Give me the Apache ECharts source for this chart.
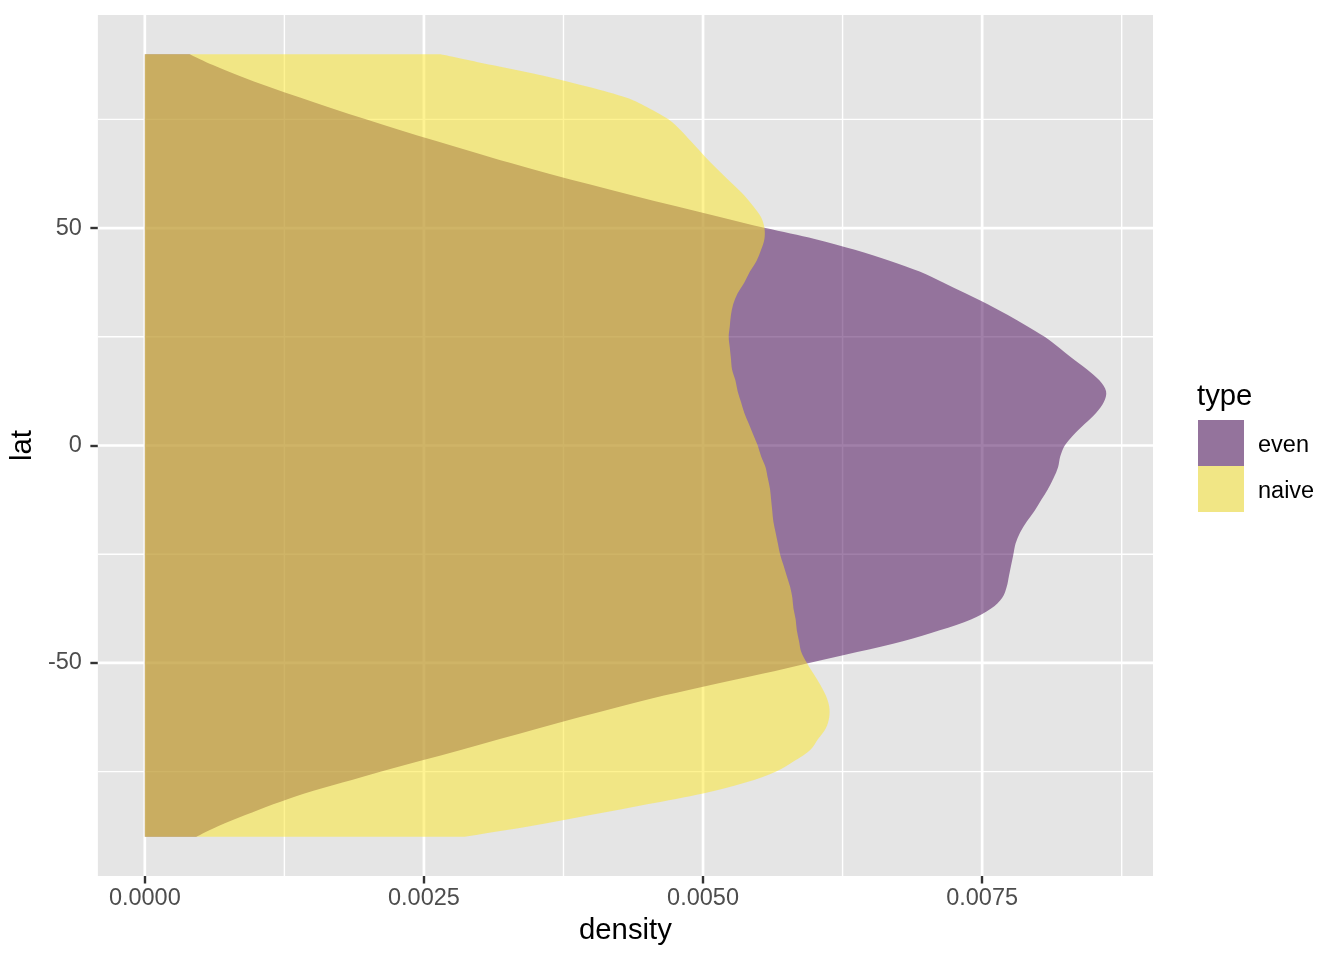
<!DOCTYPE html>
<html><head><meta charset="utf-8">
<script src="https://cdn.jsdelivr.net/npm/echarts@6/dist/echarts.min.js"></script>
<style>html,body{margin:0;padding:0;background:#fff}#chart{width:1344px;height:960px}</style>
</head><body><div id="chart"></div>
<script>
// ---- data ----
const lat = [-90,-87.5,-85,-82.5,-80,-77.5,-75,-72.5,-70,-67.5,-65,-62.5,-60,-57.5,-55,-52.5,-50,-47.5,-45,-42.5,-40,-37.5,-35,-32.5,-30,-27.5,-25,-22.5,-20,-17.5,-15,-12.5,-10,-7.5,-5,-2.5,0,2.5,5,7.5,10,12.5,15,17.5,20,22.5,25,27.5,30,32.5,35,37.5,40,42.5,45,47.5,50,52.5,55,57.5,60,62.5,65,67.5,70,72.5,75,77.5,80,82.5,85,87.5,90];
const evenDensity = [0.00046,0.00066,0.00090,0.00115,0.00143,0.00177,0.00211,0.00247,0.00283,0.00318,0.00353,0.00389,0.00426,0.00465,0.00508,0.00553,0.00595,0.00638,0.00679,0.00712,0.00740,0.00758,0.00768,0.00772,0.00774,0.00776,0.00778,0.00780,0.00784,0.00790,0.00797,0.00803,0.00809,0.00814,0.00818,0.00820,0.00824,0.00832,0.00842,0.00852,0.00859,0.00861,0.00855,0.00844,0.00831,0.00819,0.00806,0.00790,0.00773,0.00755,0.00735,0.00715,0.00694,0.00667,0.00636,0.00600,0.00556,0.00516,0.00476,0.00437,0.00399,0.00362,0.00327,0.00294,0.00261,0.00229,0.00198,0.00168,0.00139,0.00111,0.00085,0.00061,0.00040];
const naiveDensity = [0.00286,0.00346,0.00399,0.00450,0.00500,0.00538,0.00565,0.00582,0.00596,0.00603,0.00610,0.00613,0.00613,0.00610,0.00605,0.00599,0.00593,0.00588,0.00586,0.00584,0.00583,0.00581,0.00580,0.00578,0.00575,0.00572,0.00569,0.00567,0.00565,0.00563,0.00562,0.00561,0.00560,0.00558,0.00556,0.00552,0.00549,0.00545,0.00541,0.00537,0.00534,0.00531,0.00529,0.00526,0.00525,0.00524,0.00523,0.00524,0.00525,0.00527,0.00531,0.00537,0.00542,0.00548,0.00552,0.00555,0.00555,0.00552,0.00545,0.00537,0.00527,0.00517,0.00507,0.00498,0.00489,0.00480,0.00469,0.00452,0.00431,0.00397,0.00358,0.00311,0.00265];
const typeNames = ['even', 'naive'];
const xTicks = [0, 0.0025, 0.005, 0.0075];
const xMinorGrid = [0.00125, 0.00375, 0.00625, 0.00875];
const yTicks = [-50, 0, 50];
const yMinorGrid = [-75, -25, 25, 75];

// ---- styling ----
const FONT = '"Liberation Sans", Arial, Helvetica, sans-serif';
const fillColors = ['rgba(68,1,84,0.5)', 'rgba(253,231,37,0.5)'];
const keyColors = ['#94739C', '#F1E685'];

function gridSeries(values, dir, width) {
  return {
    type: 'custom', silent: true, z: 1,
    data: values.map(v => [v]),
    renderItem: function (params, api) {
      const cs = params.coordSys;
      const v = api.value(0);
      if (dir === 'x') {
        const x = api.coord([v, 0])[0];
        return {type: 'line', shape: {x1: x, y1: cs.y, x2: x, y2: cs.y + cs.height},
                style: {stroke: '#ffffff', lineWidth: width}};
      }
      const y = api.coord([0, v])[1];
      return {type: 'line', shape: {x1: cs.x, y1: y, x2: cs.x + cs.width, y2: y},
              style: {stroke: '#ffffff', lineWidth: width}};
    }
  };
}

// closed area between the density curve and density = 0, curve drawn as a smooth spline
function densitySeries(name, dens, color) {
  return {
    type: 'custom', name: name, z: 2,
    itemStyle: {color: color},
    data: lat.map((l, i) => [dens[i], l]),
    renderItem: function (params, api) {
      if (params.dataIndex !== 0) return null;
      const p = lat.map((l, i) => api.coord([dens[i], l]));
      const b0 = api.coord([0, lat[0]]);
      const b1 = api.coord([0, lat[lat.length - 1]]);
      const n = p.length;
      let d = 'M' + b0[0] + ' ' + b0[1] + 'L' + p[0][0] + ' ' + p[0][1];
      for (let i = 0; i < n - 1; i++) {
        const pm = p[Math.max(i - 1, 0)], p0 = p[i], p1 = p[i + 1], p2 = p[Math.min(i + 2, n - 1)];
        const c1x = p0[0] + (p1[0] - pm[0]) / 6, c1y = p0[1] + (p1[1] - pm[1]) / 6;
        const c2x = p1[0] - (p2[0] - p0[0]) / 6, c2y = p1[1] - (p2[1] - p0[1]) / 6;
        d += 'C' + c1x + ' ' + c1y + ' ' + c2x + ' ' + c2y + ' ' + p1[0] + ' ' + p1[1];
      }
      d += 'L' + b1[0] + ' ' + b1[1] + 'Z';
      return {type: 'path', shape: {pathData: d}, style: {fill: color, stroke: null}};
    }
  };
}

const chart = echarts.init(document.getElementById('chart'), null, {renderer: 'canvas'});
chart.setOption({
  animation: false,
  backgroundColor: '#ffffff',
  title: {
    text: 'type', left: 1197, top: 382, padding: 0,
    textStyle: {fontFamily: FONT, fontSize: 29.3, fontWeight: 'normal', color: '#000000'}
  },
  legend: {
    orient: 'vertical', left: 1198, top: 420, padding: 0,
    itemWidth: 46, itemHeight: 46, itemGap: 0, selectedMode: false,
    formatter: n => '{t|' + n + '}',
    textStyle: {fontFamily: FONT, fontSize: 23.5, color: '#000000',
                rich: {t: {fontFamily: FONT, fontSize: 23.5, color: '#000000', padding: [6, 0, 0, 9]}}},
    data: typeNames.map((n, i) => ({name: n, icon: 'rect', itemStyle: {color: keyColors[i]}}))
  },
  grid: {
    left: 97, top: 15, width: 1056, height: 861,
    show: true, backgroundColor: '#E5E5E5', borderWidth: 0, containLabel: false
  },
  xAxis: {
    type: 'value', min: -0.0004206, max: 0.0090304,
    name: 'density', nameLocation: 'middle', nameGap: 40,
    nameTextStyle: {fontFamily: FONT, fontSize: 29.3, color: '#000000'},
    axisLine: {show: false, onZero: false},
    axisTick: {show: true, customValues: xTicks, length: 7.5, lineStyle: {color: '#333333', width: 2.4}},
    axisLabel: {show: true, customValues: xTicks, margin: 11, fontFamily: FONT, fontSize: 23.5, color: '#4D4D4D',
                formatter: v => v.toFixed(4)},
    splitLine: {show: false}, minorSplitLine: {show: false}
  },
  yAxis: {
    type: 'value', min: -99, max: 99,
    name: 'lat', nameLocation: 'middle', nameGap: 50, nameRotate: 90,
    nameTextStyle: {fontFamily: FONT, fontSize: 29.3, color: '#000000'},
    axisLine: {show: false, onZero: false},
    axisTick: {show: true, customValues: yTicks, length: 7.5, lineStyle: {color: '#333333', width: 2.4}},
    axisLabel: {show: true, customValues: yTicks, margin: 16, fontFamily: FONT, fontSize: 23.5, color: '#4D4D4D',
                formatter: v => String(v)},
    splitLine: {show: false}, minorSplitLine: {show: false}
  },
  series: [
    gridSeries(xMinorGrid, 'x', 1.4),
    gridSeries(yMinorGrid, 'y', 1.4),
    gridSeries(xTicks, 'x', 2.7),
    gridSeries(yTicks, 'y', 2.7),
    densitySeries(typeNames[0], evenDensity, fillColors[0]),
    densitySeries(typeNames[1], naiveDensity, fillColors[1])
  ]
});
</script></body></html>
